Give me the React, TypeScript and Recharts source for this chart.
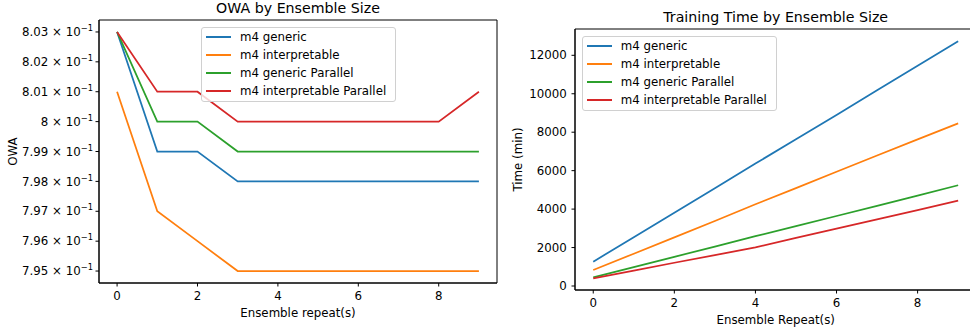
import React from "react";
import { Legend, Line, LineChart, ReferenceArea, XAxis, YAxis } from "recharts";

const repeats = [0, 1, 2, 3, 4, 5, 6, 7, 8, 9];

// OWA per ensemble repeat
const owaGeneric = [0.803, 0.799, 0.799, 0.798, 0.798, 0.798, 0.798, 0.798, 0.798, 0.798];
const owaInterpretable = [0.801, 0.797, 0.796, 0.795, 0.795, 0.795, 0.795, 0.795, 0.795, 0.795];
const owaGenericParallel = [0.803, 0.8, 0.8, 0.799, 0.799, 0.799, 0.799, 0.799, 0.799, 0.799];
const owaInterpretableParallel = [0.803, 0.801, 0.801, 0.8, 0.8, 0.8, 0.8, 0.8, 0.8, 0.801];

// training time (min) per ensemble repeat
const timeGeneric = [1265, 2540, 3810, 5085, 6370, 7630, 8900, 10180, 11450, 12725];
const timeInterpretable = [830, 1680, 2530, 3380, 4250, 5090, 5940, 6790, 7630, 8460];
const timeGenericParallel = [450, 980, 1520, 2050, 2590, 3110, 3640, 4170, 4700, 5240];
const timeInterpretableParallel = [400, 800, 1210, 1610, 2010, 2500, 2980, 3470, 3950, 4440];

const xTicks = [0, 2, 4, 6, 8];
const owaTicks = [0.795, 0.796, 0.797, 0.798, 0.799, 0.8, 0.801, 0.802, 0.803];
const timeTicks = [0, 2000, 4000, 6000, 8000, 10000, 12000];

const series = [
  { key: "generic", name: "m4 generic", color: "#1f77b4" },
  { key: "interpretable", name: "m4 interpretable", color: "#ff7f0e" },
  { key: "genericParallel", name: "m4 generic Parallel", color: "#2ca02c" },
  { key: "interpretableParallel", name: "m4 interpretable Parallel", color: "#d62728" },
];

const owaData = repeats.map((r, i) => ({
  repeat: r,
  generic: owaGeneric[i],
  interpretable: owaInterpretable[i],
  genericParallel: owaGenericParallel[i],
  interpretableParallel: owaInterpretableParallel[i],
}));

const timeData = repeats.map((r, i) => ({
  repeat: r,
  generic: timeGeneric[i],
  interpretable: timeInterpretable[i],
  genericParallel: timeGenericParallel[i],
  interpretableParallel: timeInterpretableParallel[i],
}));

const FONT = "DejaVu Sans, sans-serif";
const TICK_SIZE = 11.8;
const X_DOMAIN: [number, number] = [-0.45, 9.45];
const OWA_DOMAIN: [number, number] = [0.7946, 0.8034];
const TIME_DOMAIN: [number, number] = [-208, 13368];

function OwaTick(props: any) {
  const { x, y, payload } = props;
  const mant = parseFloat((payload.value * 10).toFixed(2)).toString();
  return (
    <text x={x} y={y} dy="0.355em" textAnchor="end" fill="#000" fontSize={TICK_SIZE} fontFamily={FONT}>
      <tspan>{mant} × 10</tspan>
      <tspan dy={-5} fontSize={8.3}>−1</tspan>
    </text>
  );
}

// keep legend rows in plotting order (recharts sorts by name otherwise)
function LegendBox(props: any) {
  const payload = [...(props.payload || [])].sort(
    (a: any, b: any) =>
      series.findIndex((s) => s.name === a.value) - series.findIndex((s) => s.name === b.value)
  );
  return (
    <div
      style={{
        width: 195,
        boxSizing: "border-box",
        border: "1px solid #d0d0d0",
        borderRadius: 3,
        background: "rgba(255,255,255,0.8)",
        padding: "0 0 1px 0",
        fontFamily: FONT,
        fontSize: TICK_SIZE,
      }}
    >
      {payload.map((item: any) => (
        <div key={item.value} style={{ height: 17.7, display: "flex", alignItems: "center", marginTop: 0.3 }}>
          <div style={{ width: 25, height: 2, marginLeft: 4, background: item.color }} />
          <span style={{ marginLeft: 9, color: "#000", whiteSpace: "nowrap" }}>{item.value}</span>
        </div>
      ))}
    </div>
  );
}

const axisLine = { stroke: "#000", strokeWidth: 1 };
const tickLine = { stroke: "#000", strokeWidth: 1 };
const tickStyle = { fill: "#000", fontSize: TICK_SIZE, fontFamily: FONT };

export default function App() {
  return (
    <div
      style={{
        position: "absolute",
        left: 0,
        top: 0,
        width: 970,
        height: 328,
        overflow: "hidden",
        background: "#fff",
        fontFamily: FONT,
      }}
    >
      <div style={{ position: "absolute", left: 0, top: 0 }}>
        <LineChart width={510} height={328} data={owaData} margin={{ top: 20, right: 13, left: 0, bottom: 0 }}>
          <XAxis
            dataKey="repeat"
            type="number"
            domain={X_DOMAIN}
            allowDataOverflow
            ticks={xTicks}
            height={45}
            tickSize={3.5}
            tickMargin={5.5}
            axisLine={axisLine}
            tickLine={tickLine}
            tick={tickStyle}
          />
          <YAxis
            type="number"
            domain={OWA_DOMAIN}
            allowDataOverflow
            ticks={owaTicks}
            width={99}
            tickSize={3.5}
            tickMargin={2.5}
            axisLine={axisLine}
            tickLine={tickLine}
            tick={<OwaTick />}
            interval={0}
          />
          <ReferenceArea
            x1={X_DOMAIN[0]}
            x2={X_DOMAIN[1]}
            y1={OWA_DOMAIN[0]}
            y2={OWA_DOMAIN[1]}
            fill="none"
            stroke="#000"
            strokeWidth={1}
            ifOverflow="visible"
          />
          {series.map((s) => (
            <Line
              key={s.key}
              dataKey={s.key}
              name={s.name}
              stroke={s.color}
              strokeWidth={1.75}
              dot={false}
              isAnimationActive={false}
            />
          ))}
          <Legend
            layout="horizontal"
            align="center"
            verticalAlign="middle"
            content={<LegendBox />}
            wrapperStyle={{ position: "absolute", left: 201, top: 26.7, width: 195 }}
          />
        </LineChart>
      </div>

      <div style={{ position: "absolute", left: 490, top: 0 }}>
        <LineChart width={500} height={328} data={timeData} margin={{ top: 29, right: 13.6, left: 0, bottom: 0 }}>
          <XAxis
            dataKey="repeat"
            type="number"
            domain={X_DOMAIN}
            allowDataOverflow
            ticks={xTicks}
            height={38}
            tickSize={3.5}
            tickMargin={5.5}
            axisLine={axisLine}
            tickLine={tickLine}
            tick={tickStyle}
          />
          <YAxis
            type="number"
            domain={TIME_DOMAIN}
            allowDataOverflow
            ticks={timeTicks}
            width={85}
            tickSize={3.5}
            tickMargin={4.8}
            axisLine={axisLine}
            tickLine={tickLine}
            tick={tickStyle}
            interval={0}
          />
          <ReferenceArea
            x1={X_DOMAIN[0]}
            x2={X_DOMAIN[1]}
            y1={TIME_DOMAIN[0]}
            y2={TIME_DOMAIN[1]}
            fill="none"
            stroke="#000"
            strokeWidth={1}
            ifOverflow="visible"
          />
          {series.map((s) => (
            <Line
              key={s.key}
              dataKey={s.key}
              name={s.name}
              stroke={s.color}
              strokeWidth={1.75}
              dot={false}
              isAnimationActive={false}
            />
          ))}
          <Legend
            layout="horizontal"
            align="center"
            verticalAlign="middle"
            content={<LegendBox />}
            wrapperStyle={{ position: "absolute", left: 91.7, top: 35.7, width: 195 }}
          />
        </LineChart>
      </div>

      <svg width={970} height={328} style={{ position: "absolute", left: 0, top: 0, pointerEvents: "none" }}>
        <g fontFamily={FONT} fill="#000">
          <text x={298} y={13.1} textAnchor="middle" fontSize={14.2}>OWA by Ensemble Size</text>
          <text x={775.7} y={22.3} textAnchor="middle" fontSize={14.2}>Training Time by Ensemble Size</text>
          <text x={298} y={317} textAnchor="middle" fontSize={TICK_SIZE}>Ensemble repeat(s)</text>
          <text x={775.7} y={323.6} textAnchor="middle" fontSize={TICK_SIZE}>Ensemble Repeat(s)</text>
          <text x={16.5} y={151.5} textAnchor="middle" fontSize={TICK_SIZE} transform="rotate(-90 16.5 151.5)">OWA</text>
          <text x={522} y={159.5} textAnchor="middle" fontSize={TICK_SIZE} transform="rotate(-90 522 159.5)">Time (min)</text>
        </g>
      </svg>
    </div>
  );
}
